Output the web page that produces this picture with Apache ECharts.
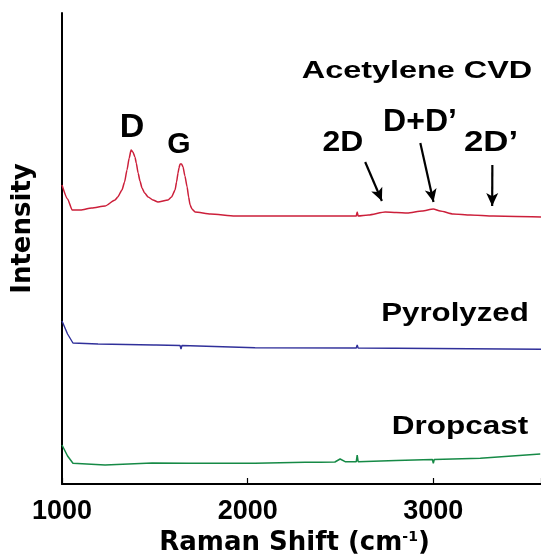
<!DOCTYPE html>
<html>
<head>
<meta charset="utf-8">
<title>Raman spectra</title>
<script src="https://cdn.jsdelivr.net/npm/echarts@6/dist/echarts.min.js"></script>
<style>
  html, body { margin: 0; padding: 0; background: #fff; }
  #chart { width: 541px; height: 559px; }
</style>
</head>
<body>
<div id="chart"></div>
<script>
// Raman shift (cm-1) and intensity (a.u.)
const cvdShift = [1000, 1030, 1055, 1100, 1160, 1232, 1286, 1300, 1323, 1337, 1350, 1362, 1372, 1382, 1393, 1400, 1410, 1420, 1431, 1445, 1464, 1490, 1517, 1571, 1590, 1609, 1617, 1625, 1630, 1636, 1644, 1652, 1662, 1674, 1682, 1690, 1700, 1717, 1800, 1932, 2200, 2500, 2585, 2590, 2595, 2650, 2741, 2800, 2860, 2940, 3000, 3037, 3107, 3200, 3323, 3580]
const cvdInt   = [299, 285, 274, 274, 276, 278, 284, 287, 294, 302, 314, 326, 334, 332, 327, 321, 311, 303, 296, 291, 287, 284, 282, 284, 287, 294, 302, 311, 316, 320, 320, 317, 308, 297, 287, 279, 275, 272, 270, 268, 268, 268, 268, 272, 268, 269, 272, 271.5, 271, 273, 275, 273, 270, 269, 268, 267]

const pyroShift = [1000, 1030, 1059, 1194, 1495, 1501, 1507, 1636, 1641, 1646, 2040, 2585, 2590, 2595, 3000, 3580]
const pyroInt   = [163, 150, 141, 140, 139, 141, 139, 138.5, 135, 138.5, 136.3, 136, 139, 136, 135.5, 134.7]

const dropShift = [1000, 1030, 1059, 1232, 1485, 1490, 1495, 1679, 2040, 2310, 2391, 2470, 2498, 2525, 2585, 2590, 2595, 2800, 2995, 3000, 3005, 3253, 3576]
const dropInt   = [39, 28, 20.7, 19, 21, 23, 21, 20.7, 20.7, 21.7, 21.7, 22, 25, 22.3, 22.3, 29, 22.3, 23.5, 24.5, 20.7, 24.5, 25.7, 30]

const xTicks = [1000, 2000, 3000]

const toPairs = (xs, ys) => xs.map((x, i) => [x, ys[i]])

const chart = echarts.init(document.getElementById('chart'))

const font = '"Liberation Sans", Arial, Helvetica, sans-serif'
const wideFont = '"DejaVu Sans", sans-serif'

// arrow pointing at a weak band
const arrow = (from, to) => [
  { coord: from, symbol: 'none' },
  { coord: to, symbol: 'arrow', symbolSize: [9, 13] }
]

// text label, stretched wide like the original figure
const label = (text, x, y, size, sx) => ({
  type: 'text',
  x: x,
  y: y,
  scaleX: sx,
  style: {
    text: text,
    x: 0,
    y: 0,
    align: 'center',
    verticalAlign: 'middle',
    font: 'bold ' + size + 'px ' + font,
    fill: '#000'
  }
})

chart.setOption({
  animation: false,
  grid: { left: 62, right: 0, top: 13, bottom: 75, outerBoundsMode: 'none' },
  xAxis: {
    type: 'value',
    min: 1000,
    max: 3580,
    interval: 1000,
    name: '{a|Raman Shift (cm}{s|-1}{a|)}',
    nameLocation: 'middle',
    nameGap: 46,
    nameTextStyle: {
      padding: [0, 14, 0, 0],
      rich: {
        a: { fontFamily: wideFont, fontWeight: 'bold', fontSize: 26, color: '#000' },
        s: { fontFamily: wideFont, fontWeight: 'bold', fontSize: 14, color: '#000', verticalAlign: 'top', padding: [0, 0, 12, 0] }
      }
    },
    axisLine: { lineStyle: { color: '#000', width: 2 } },
    axisTick: { inside: true, length: 6, lineStyle: { color: '#000', width: 1.2 } },
    axisLabel: {
      margin: 14,
      fontFamily: font,
      fontWeight: 'bold',
      fontSize: 27,
      color: '#000',
      formatter: v => xTicks.includes(v) ? String(v) : ''
    },
    splitLine: { show: false }
  },
  yAxis: {
    type: 'value',
    min: 0,
    max: 471,
    name: 'Intensity',
    nameLocation: 'middle',
    nameGap: 26,
    nameTextStyle: { fontFamily: wideFont, fontWeight: 'bold', fontSize: 26, color: '#000', padding: [0, 0, 0, 40] },
    axisLine: { show: true, lineStyle: { color: '#000', width: 2 } },
    axisTick: { show: false },
    axisLabel: { show: false },
    splitLine: { show: false }
  },
  series: [
    {
      name: 'Acetylene CVD',
      type: 'line',
      data: toPairs(cvdShift, cvdInt),
      showSymbol: false,
      smooth: 0.2,
      smoothMonotone: 'x',
      lineStyle: { color: '#cc1f3a', width: 1.5 },
      markLine: {
        silent: true,
        lineStyle: { color: '#000', width: 2.2, type: 'solid' },
        label: { show: false },
        data: [
          arrow([2633, 322], [2723, 283]),
          arrow([2930, 341], [3001, 282]),
          arrow([3318, 319], [3317, 278])
        ]
      }
    },
    {
      name: 'Pyrolyzed',
      type: 'line',
      data: toPairs(pyroShift, pyroInt),
      showSymbol: false,
      lineStyle: { color: '#30309a', width: 1.4 }
    },
    {
      name: 'Dropcast',
      type: 'line',
      data: toPairs(dropShift, dropInt),
      showSymbol: false,
      lineStyle: { color: '#168a46', width: 1.5 }
    }
  ],
  graphic: [
    label('Acetylene CVD', 417, 71, 24, 1.35),
    label('D', 132, 128, 34, 1),
    label('G', 179, 145, 30, 1),
    label('2D', 343, 143, 29, 1.1),
    label('D+D\u2019', 420, 122, 32, 1),
    label('2D\u2019', 491, 143, 29, 1.2),
    label('Pyrolyzed', 455, 314, 25, 1.25),
    label('Dropcast', 460, 427, 25, 1.26)
  ]
})
</script>
</body>
</html>
